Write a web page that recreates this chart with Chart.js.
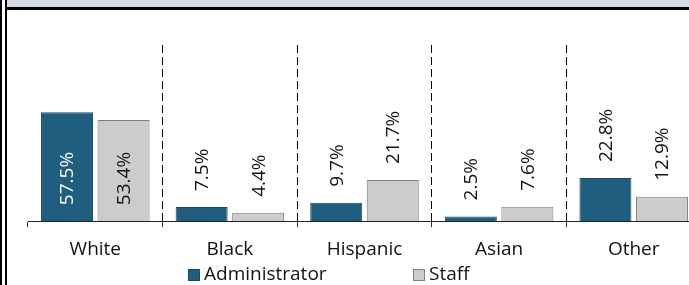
<!DOCTYPE html>
<html><head><meta charset="utf-8">
<script src="https://cdn.jsdelivr.net/npm/chart.js@4.4.1/dist/chart.umd.min.js"></script>
<style>
html,body{margin:0;padding:0;background:#fff;overflow:hidden;}
#wrap{position:relative;width:689px;height:285px;overflow:hidden;background:#fff;}
#cv{position:absolute;left:0;top:0;}
.vl{position:absolute;top:0;height:285px;width:2px;background:#000;}
#band{position:absolute;left:7px;width:682px;top:0;height:7px;background:#d6dce4;}
#rule{position:absolute;left:7px;width:682px;top:7px;height:3px;background:#000;}
</style></head><body>
<div id="wrap">
  <canvas id="cv" width="720" height="285"></canvas>
  <div class="vl" style="left:0"></div>
  <div class="vl" style="left:5px"></div>
  <div id="band"></div>
  <div id="rule"></div>
</div>
<script>
// ---- data ----
const categories = ['White', 'Black', 'Hispanic', 'Asian', 'Other'];
const seriesNames = ['Administrator', 'Staff'];
const administratorValues = [57.5, 7.5, 9.7, 2.5, 22.8];
const staffValues = [53.4, 4.4, 21.7, 7.6, 12.9];
const yMin = 0;
const yMax = 93;

// ---- styles ----
const FONT = '"Open Sans", "DejaVu Sans", sans-serif';
const FS = 19;
const TEXT = '#111111';
const adminFill = '#205e80';
const adminBorder = '#1a4d6a';
const staffFill = '#cccccc';
const staffBorder = '#7f7f7f';
const insideThreshold = 40;

const valueLabels = {
  id: 'valueLabels',
  afterDatasetsDraw(chart) {
    const ctx = chart.ctx;
    chart.data.datasets.forEach((ds, di) => {
      const meta = chart.getDatasetMeta(di);
      meta.data.forEach((bar, i) => {
        const v = ds.data[i];
        const txt = v.toFixed(1) + '%';
        const inside = v > insideThreshold;
        ctx.save();
        ctx.font = FS + 'px ' + FONT;
        ctx.fillStyle = inside ? ds.insideLabelColor : TEXT;
        ctx.textAlign = 'left';
        ctx.textBaseline = 'middle';
        const y0 = inside ? bar.base - 16 : bar.y - 16;
        ctx.translate(bar.x + 1, y0);
        ctx.rotate(-Math.PI / 2);
        ctx.fillText(txt, 0, 0);
        ctx.restore();
      });
    });
  }
};

const legendX = [188, 413];
const legendY = 275;
const customLegend = {
  id: 'customLegend',
  afterDraw(chart) {
    const ctx = chart.ctx;
    ctx.save();
    ctx.font = FS + 'px ' + FONT;
    ctx.textBaseline = 'middle';
    ctx.textAlign = 'left';
    chart.data.datasets.forEach((ds, di) => {
      const x = legendX[di];
      ctx.fillStyle = ds.backgroundColor;
      ctx.fillRect(x, legendY - 6, 12, 12);
      ctx.strokeStyle = ds.borderColor;
      ctx.lineWidth = 1;
      ctx.strokeRect(x + 0.5, legendY - 5.5, 11, 11);
      ctx.fillStyle = TEXT;
      ctx.fillText(ds.label, x + 16, legendY);
    });
    ctx.restore();
  }
};

new Chart(document.getElementById('cv'), {
  type: 'bar',
  data: {
    labels: categories,
    datasets: [
      { label: seriesNames[0], data: administratorValues, backgroundColor: adminFill, borderColor: adminBorder, borderWidth: 1, insideLabelColor: '#ffffff' },
      { label: seriesNames[1], data: staffValues, backgroundColor: staffFill, borderColor: staffBorder, borderWidth: 1, insideLabelColor: TEXT }
    ]
  },
  options: {
    responsive: false,
    animation: false,
    devicePixelRatio: 1,
    categoryPercentage: 0.84,
    barPercentage: 0.92,
    layout: { padding: { left: 28, right: 19, top: 45, bottom: 13 } },
    plugins: { legend: { display: false }, tooltip: { enabled: false }, title: { display: false } },
    scales: {
      x: {
        grid: {
          offset: true,
          color: c => c.index === 0 ? 'rgba(0,0,0,0)' : '#000',
          lineWidth: 1,
          tickLength: 6,
          tickColor: '#333',
          tickBorderDash: c => c.index === 0 ? [] : [8, 4]
        },
        border: { display: true, color: '#222', width: 1, dash: [8, 4] },
        ticks: { font: { family: FONT, size: FS }, color: TEXT, padding: 11, maxRotation: 0 }
      },
      y: { display: false, min: yMin, max: yMax }
    }
  },
  plugins: [valueLabels, customLegend]
});
</script>
</body></html>
